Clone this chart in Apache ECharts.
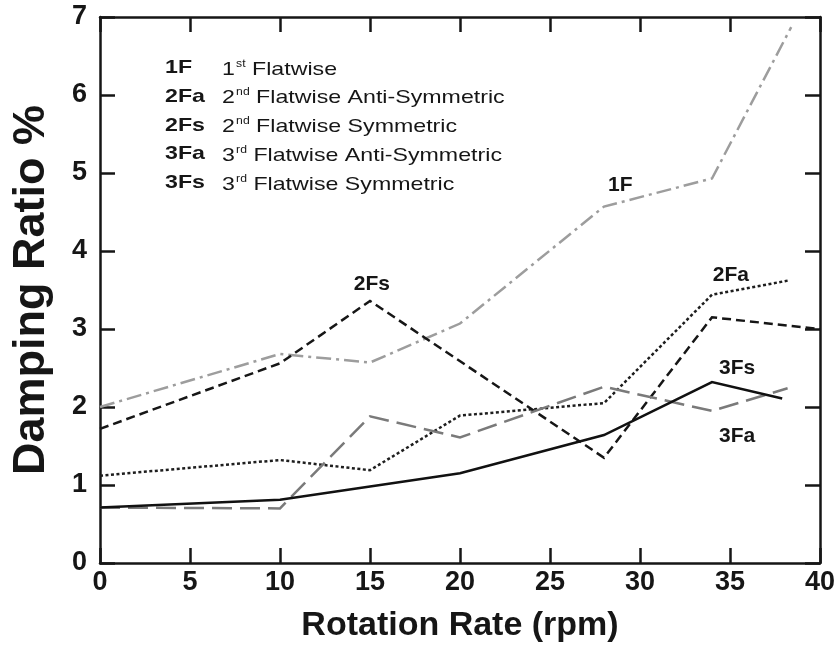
<!DOCTYPE html>
<html>
<head>
<meta charset="utf-8">
<title>Damping Ratio vs Rotation Rate</title>
<script src="https://cdn.jsdelivr.net/npm/echarts@6/dist/echarts.min.js"></script>
<style>
  html, body { margin: 0; padding: 0; background: #fff; }
  #chart { width: 837px; height: 650px; }
</style>
</head>
<body>
<div id="chart"></div>
<script>
// Rotation rates (rpm) for each mode
const rpm1F  = [0, 10, 15, 20, 28, 34, 38.4];
const rpm2Fa = [0, 10, 15, 20, 28, 34, 38.2];
const rpm2Fs = [0, 10, 15, 28, 34, 40];
const rpm3Fa = [0, 10, 15, 20, 28, 34, 38.2];
const rpm3Fs = [0, 10, 15, 20, 28, 34, 37.9];

// Damping ratio (%) for each mode
const damp1F  = [2.00, 2.68, 2.57, 3.07, 4.57, 4.93, 6.87];
const damp2Fa = [1.12, 1.32, 1.19, 1.89, 2.05, 3.44, 3.62];
const damp2Fs = [1.72, 2.56, 3.36, 1.35, 3.15, 3.00];
const damp3Fa = [0.71, 0.70, 1.88, 1.61, 2.26, 1.95, 2.24];
const damp3Fs = [0.71, 0.81, 0.98, 1.15, 1.64, 2.32, 2.11];

// Axis ticks
const xTicks = [0, 5, 10, 15, 20, 25, 30, 35, 40];
const yTicks = [0, 1, 2, 3, 4, 5, 6, 7];

// Key of mode abbreviations
const keyCodes = ['1F', '2Fa', '2Fs', '3Fa', '3Fs'];
const keyOrdinals = [['1', 'st'], ['2', 'nd'], ['2', 'nd'], ['3', 'rd'], ['3', 'rd']];
const keyNames = ['Flatwise', 'Flatwise Anti-Symmetric', 'Flatwise Symmetric',
                  'Flatwise Anti-Symmetric', 'Flatwise Symmetric'];

// Curve tags, anchored in data coordinates
const tagNames = ['1F', '2Fs', '2Fa', '3Fs', '3Fa'];
const tagAnchors = [[28.9, 4.84], [15.1, 3.58], [35.05, 3.69], [35.4, 2.50], [35.4, 1.63]];

const FONT = '"Liberation Sans", Arial, Helvetica, sans-serif';
const INK = '#161616';

function pairs(xs, ys) { return xs.map((x, i) => [x, ys[i]]); }

const chart = echarts.init(document.getElementById('chart'), null, { renderer: 'canvas' });

const baseAxis = {
  type: 'value',
  axisLine: { show: true, onZero: false, lineStyle: { color: INK, width: 2.5 } },
  axisTick: { show: true, inside: true, length: 15, lineStyle: { color: INK, width: 2.5 } },
  splitLine: { show: false },
  axisLabel: { show: true, color: INK, fontFamily: FONT, fontWeight: 'bold', fontSize: 27 }
};

function mirror(axis, position) {
  return Object.assign({}, axis, {
    position: position,
    name: '',
    axisLabel: { show: false }
  });
}

const xMain = Object.assign({}, baseAxis, {
  min: xTicks[0], max: xTicks[xTicks.length - 1], interval: xTicks[1] - xTicks[0],
  position: 'bottom',
  name: 'Rotation Rate (rpm)',
  nameLocation: 'middle', nameGap: 46,
  nameTextStyle: { color: INK, fontFamily: FONT, fontWeight: 'bold', fontSize: 34 },
  axisLabel: Object.assign({}, baseAxis.axisLabel, { margin: 6 })
});
const yMain = Object.assign({}, baseAxis, {
  min: yTicks[0], max: yTicks[yTicks.length - 1], interval: yTicks[1] - yTicks[0],
  position: 'left',
  name: 'Damping Ratio %',
  nameLocation: 'middle', nameGap: 46, nameRotate: 90,
  nameTextStyle: { color: INK, fontFamily: FONT, fontWeight: 'bold', fontSize: 45 },
  axisLabel: Object.assign({}, baseAxis.axisLabel, { margin: 13 })
});

function lineSeries(name, xs, ys, color, type, width) {
  return {
    name: name, type: 'line', xAxisIndex: 0, yAxisIndex: 0,
    data: pairs(xs, ys),
    symbol: 'none', smooth: false, silent: true,
    lineStyle: { color: color, width: width || 2.5, type: type, cap: 'butt', join: 'miter' },
    z: 3
  };
}

// Key text block
const keyGraphics = [];
keyCodes.forEach((code, i) => {
  const y = 68 + i * 28.7;
  keyGraphics.push({
    type: 'text', x: 165, y: y, scaleX: 1.22,
    style: { text: code, fill: INK, font: 'bold 19px ' + FONT, verticalAlign: 'middle' }
  });
  keyGraphics.push({
    type: 'text', x: 222, y: y, scaleX: 1.22,
    style: {
      text: '{n|' + keyOrdinals[i][0] + '}{s|' + keyOrdinals[i][1] + '}{n| ' + keyNames[i] + '}',
      fill: INK, verticalAlign: 'middle',
      rich: {
        n: { fontFamily: FONT, fontSize: 19, fill: INK, lineHeight: 22, verticalAlign: 'bottom' },
        s: { fontFamily: FONT, fontSize: 10, fill: INK, lineHeight: 22, verticalAlign: 'top', padding: [2, 0, 0, 1] }
      }
    }
  });
});

const option = {
  backgroundColor: '#fff',
  animation: false,
  grid: { left: 100, right: 17, top: 17, bottom: 87, containLabel: false, outerBoundsMode: 'none' },
  xAxis: [xMain, mirror(xMain, 'top')],
  yAxis: [yMain, mirror(yMain, 'right')],
  series: [
    lineSeries('1F', rpm1F, damp1F, '#9d9d9d', [15, 5, 3, 5]),
    lineSeries('2Fa', rpm2Fa, damp2Fa, '#1e1e1e', [3, 2.5]),
    lineSeries('2Fs', rpm2Fs, damp2Fs, '#161616', [9, 5]),
    lineSeries('3Fa', rpm3Fa, damp3Fa, '#7a7a7a', [20, 8]),
    lineSeries('3Fs', rpm3Fs, damp3Fs, '#111111', 'solid'),
    {
      name: 'tags', type: 'scatter', xAxisIndex: 0, yAxisIndex: 0,
      symbolSize: 0, silent: true, z: 5,
      itemStyle: { opacity: 1 },
      data: tagNames.map((t, i) => ({ name: t, value: tagAnchors[i] })),
      label: {
        show: true, position: 'inside', formatter: p => p.name, opacity: 1,
        color: INK, fontFamily: FONT, fontWeight: 'bold', fontSize: 21
      }
    }
  ],
  graphic: keyGraphics
};

chart.setOption(option);
</script>
</body>
</html>
